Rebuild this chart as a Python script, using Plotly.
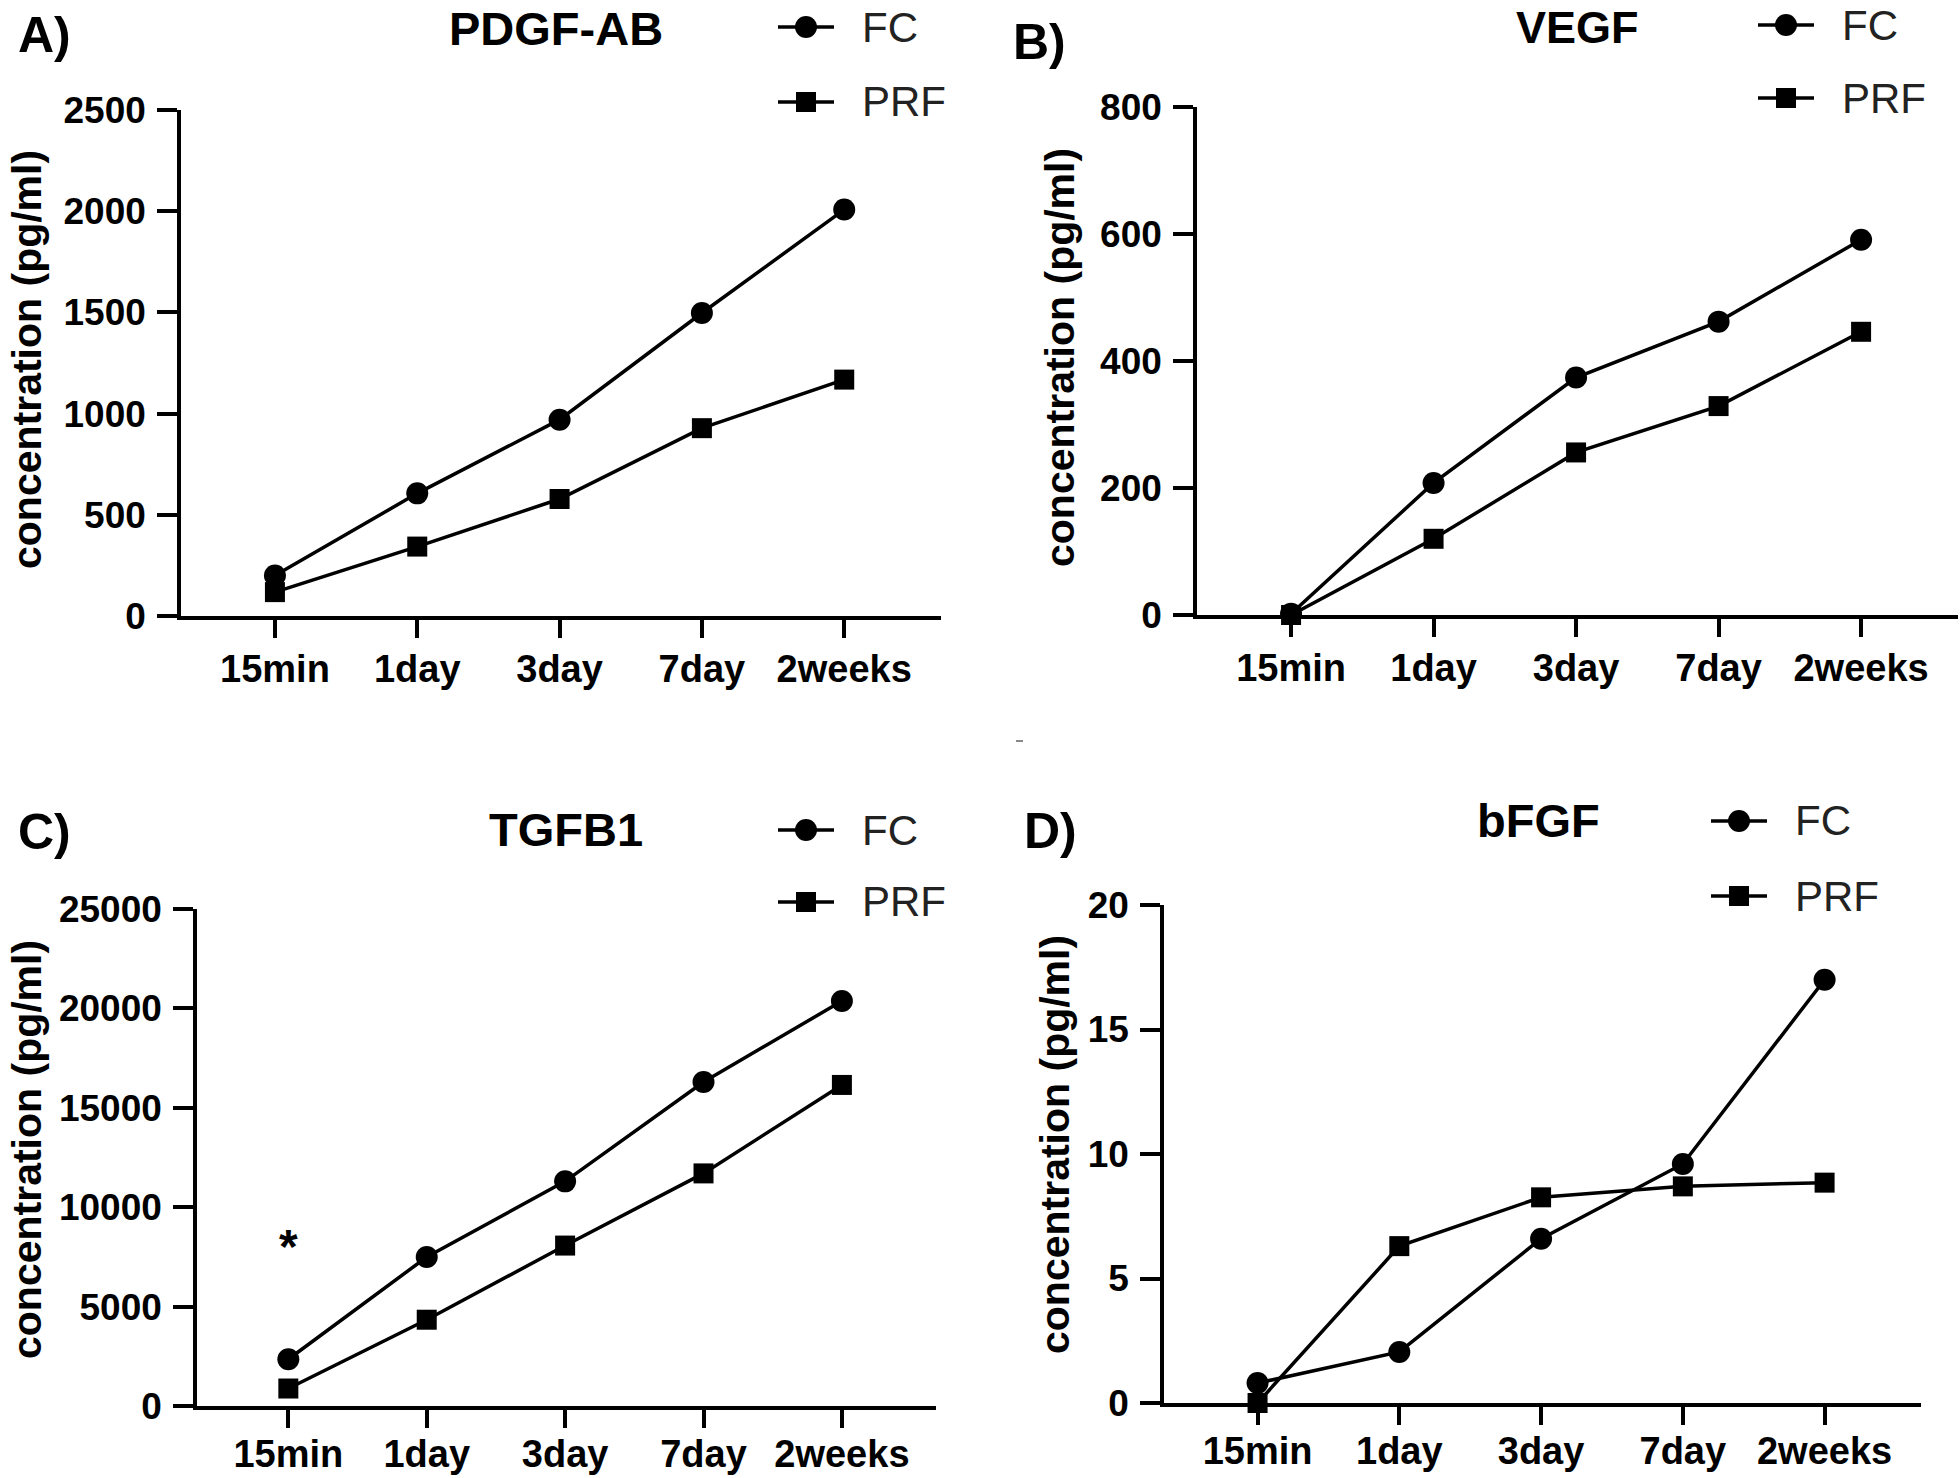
import plotly.graph_objects as go

W, H = 1960, 1478

# ---------------- data ----------------
categories = ["15min", "1day", "3day", "7day", "2weeks"]

pdgf_fc = [200, 606, 970, 1497, 2008]
pdgf_prf = [118, 343, 578, 928, 1168]

vegf_fc = [2, 208, 374, 462, 591]
vegf_prf = [0, 120, 256, 329, 446]

tgfb1_fc = [2350, 7495, 11300, 16300, 20370]
tgfb1_prf = [880, 4340, 8070, 11700, 16150]

bfgf_fc = [0.8, 2.05, 6.6, 9.6, 17.0]
bfgf_prf = [0.0, 6.3, 8.26, 8.7, 8.85]

pdgf_ticks = [0, 500, 1000, 1500, 2000, 2500]
vegf_ticks = [0, 200, 400, 600, 800]
tgfb1_ticks = [0, 5000, 10000, 15000, 20000, 25000]
bfgf_ticks = [0, 5, 10, 15, 20]

series_names = ["FC", "PRF"]
titles = ["PDGF-AB", "VEGF", "TGFB1", "bFGF"]
letters = ["A)", "B)", "C)", "D)"]
y_label = "concentration (pg/ml)"
star_text = "*"
star_category = 0
star_value = 8550

FONT = "Liberation Sans, Arial, sans-serif"

def px(x):
    return x / W

def py(y):
    return 1 - y / H

# panel geometry in pixels: (x_left, x_right, y_top, y_bottom)
panels = [
    dict(box=(181, 941, 110, 616), data=(pdgf_fc, pdgf_prf), ticks=pdgf_ticks,
         title_pos=(556, 28), letter_pos=(44, 35), leg=(806, 27, 102), ylab=(27, 360),
         xstand=-1, tsize=47),
    dict(box=(1197, 1958, 107, 615), data=(vegf_fc, vegf_prf), ticks=vegf_ticks,
         title_pos=(1577, 27), letter_pos=(1039, 42), leg=(1786, 25, 98), ylab=(1060, 358),
         xstand=-1, tsize=45),
    dict(box=(197, 936, 909, 1406), data=(tgfb1_fc, tgfb1_prf), ticks=tgfb1_ticks,
         title_pos=(566, 829), letter_pos=(44, 832), leg=(806, 830, 902), ylab=(27, 1150),
         xstand=-6, tsize=47),
    dict(box=(1164, 1921, 905, 1403), data=(bfgf_fc, bfgf_prf), ticks=bfgf_ticks,
         title_pos=(1538, 821), letter_pos=(1050, 831), leg=(1739, 821, 896), ylab=(1055, 1145),
         xstand=-6, tsize=47),
]

fig = go.Figure()
layout = dict(
    template="none",
    width=W, height=H,
    margin=dict(l=0, r=0, t=0, b=0, autoexpand=False),
    paper_bgcolor="white", plot_bgcolor="white",
    showlegend=False,
    font=dict(family=FONT, color="black"),
)
annotations = []
shapes = []

symbols = ["circle", "square"]
msizes = [22, 20]

for i, p in enumerate(panels):
    n = "" if i == 0 else str(i + 1)
    xl, xr, yt, yb = p["box"]
    xa = "x" + n
    ya = "y" + n
    for s, vals in enumerate(p["data"]):
        fig.add_trace(go.Scatter(
            x=list(range(len(categories))), y=vals,
            mode="lines+markers", name=series_names[s],
            line=dict(color="black", width=3.5),
            marker=dict(symbol=symbols[s], size=msizes[s], color="black"),
            cliponaxis=False, xaxis=xa, yaxis=ya,
        ))
    layout["xaxis" + n] = dict(
        domain=[px(xl), px(xr)], anchor=ya, automargin=False,
        range=[-0.66, len(categories) - 1 + 0.68],
        tickmode="array", tickvals=list(range(len(categories))), ticktext=categories,
        showline=True, linewidth=3.5, linecolor="black",
        ticks="outside", ticklen=18, tickwidth=3.5, tickcolor="black",
        showgrid=False, zeroline=False,
        tickfont=dict(family=FONT, size=38, color="black", weight="bold"),
        ticklabelstandoff=p["xstand"],
        fixedrange=True,
    )
    layout["yaxis" + n] = dict(
        domain=[py(yb), py(yt)], anchor=xa, automargin=False,
        range=[0, p["ticks"][-1]],
        tickmode="array", tickvals=p["ticks"], ticktext=[str(v) for v in p["ticks"]],
        showline=True, linewidth=3.5, linecolor="black",
        ticks="outside", ticklen=20, tickwidth=3.5, tickcolor="black",
        showgrid=False, zeroline=False,
        tickfont=dict(family=FONT, size=37, color="black", weight="bold"),
        ticklabelstandoff=4,
        fixedrange=True,
    )
    # panel title
    annotations.append(dict(
        text=titles[i], x=px(p["title_pos"][0]), y=py(p["title_pos"][1]),
        xref="paper", yref="paper", showarrow=False, xanchor="center", yanchor="middle",
        font=dict(family=FONT, size=p["tsize"], color="black", weight="bold"),
    ))
    # panel letter
    annotations.append(dict(
        text=letters[i], x=px(p["letter_pos"][0]), y=py(p["letter_pos"][1]),
        xref="paper", yref="paper", showarrow=False, xanchor="center", yanchor="middle",
        font=dict(family=FONT, size=50, color="black", weight="bold"),
    ))
    # y-axis label
    annotations.append(dict(
        text=y_label, x=px(p["ylab"][0]), y=py(p["ylab"][1]),
        xref="paper", yref="paper", showarrow=False, textangle=-90,
        xanchor="center", yanchor="middle",
        font=dict(family=FONT, size=41, color="black", weight="bold"),
    ))
    # manual legend
    lx, ly1, ly2 = p["leg"]
    for s, ly in enumerate((ly1, ly2)):
        shapes.append(dict(type="line", xref="paper", yref="paper",
                           x0=px(lx - 28), x1=px(lx + 28), y0=py(ly), y1=py(ly),
                           line=dict(color="black", width=3.5)))
        r = 11 if s == 0 else 10
        shapes.append(dict(type="circle" if s == 0 else "rect", xref="paper", yref="paper",
                           x0=px(lx - r), x1=px(lx + r), y0=py(ly + r), y1=py(ly - r),
                           fillcolor="black", line=dict(color="black", width=0)))
        annotations.append(dict(
            text=series_names[s], x=px(lx + 54), y=py(ly),
            xref="paper", yref="paper", showarrow=False, xanchor="left", yanchor="middle",
            font=dict(family=FONT, size=42, color="#222222"),
        ))

# significance marker on TGFB1 panel
annotations.append(dict(
    text=star_text, x=star_category, y=star_value, xref="x3", yref="y3",
    showarrow=False, xanchor="center", yanchor="middle", yshift=-10,
    font=dict(family=FONT, size=48, color="black", weight="bold"),
))

# small stray mark in the original image
shapes.append(dict(type="line", xref="paper", yref="paper",
                   x0=px(1016), x1=px(1023), y0=py(741), y1=py(741),
                   line=dict(color="#888888", width=2)))

layout["annotations"] = annotations
layout["shapes"] = shapes
fig.update_layout(**layout)
fig.write_html(
    "out.html",
    config={"displayModeBar": False},
    post_script="document.body.style.margin='0';document.body.style.overflow='hidden';",
)
